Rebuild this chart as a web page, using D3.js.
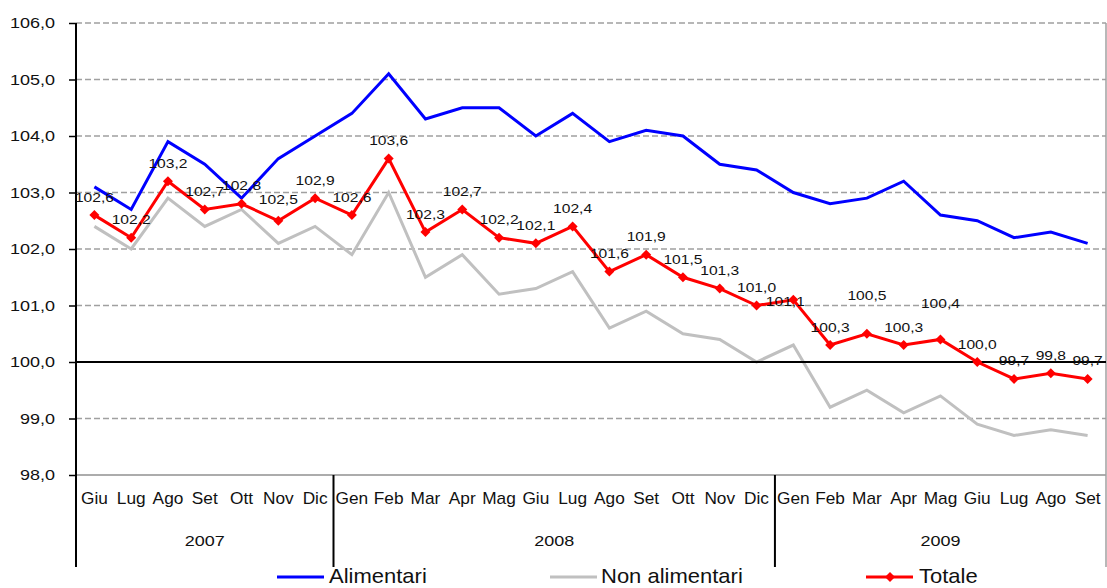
<!DOCTYPE html>
<html>
<head>
<meta charset="utf-8">
<script src="https://cdn.jsdelivr.net/npm/d3@7"></script>
<style>
  body { margin: 0; background: #fff; }
  text { font-family: "Liberation Sans", Arial, sans-serif; fill: #111; }
</style>
</head>
<body>
<script>
"use strict";
// categories
var months = ["Giu","Lug","Ago","Set","Ott","Nov","Dic",
  "Gen","Feb","Mar","Apr","Mag","Giu","Lug","Ago","Set","Ott","Nov","Dic",
  "Gen","Feb","Mar","Apr","Mag","Giu","Lug","Ago","Set"];
var yearLabels = ["2007", "2008", "2009"];
var monthsPerYear = [7, 12, 9];

// series
var alimentari = [103.1,102.7,103.9,103.5,102.9,103.6,104.0,
  104.4,105.1,104.3,104.5,104.5,104.0,104.4,103.9,104.1,104.0,103.5,103.4,
  103.0,102.8,102.9,103.2,102.6,102.5,102.2,102.3,102.1];
var nonAlimentari = [102.4,102.0,102.9,102.4,102.7,102.1,102.4,
  101.9,103.0,101.5,101.9,101.2,101.3,101.6,100.6,100.9,100.5,100.4,100.0,
  100.3,99.2,99.5,99.1,99.4,98.9,98.7,98.8,98.7];
var totale = [102.6,102.2,103.2,102.7,102.8,102.5,102.9,
  102.6,103.6,102.3,102.7,102.2,102.1,102.4,101.6,101.9,101.5,101.3,101.0,
  101.1,100.3,100.5,100.3,100.4,100.0,99.7,99.8,99.7];
var yTicks = [98,99,100,101,102,103,104,105,106];

var seriesNames = ["Alimentari", "Non alimentari", "Totale"];
var seriesColors = ["#0000ff", "#c0c0c0", "#ff0000"];

draw();

function draw() {
    var width = 1107, height = 588;
    var left = 76, right = 1106, top = 23, bottom = 475;
    var fmt = function(v) { return d3.format(".1f")(v).replace(".", ","); };

    var svg = d3.select("body").append("svg")
        .attr("width", width)
        .attr("height", height);

    var x = d3.scaleBand().domain(d3.range(months.length)).range([left, right]);
    var y = d3.scaleLinear().domain([98, 106]).range([bottom, top]);
    var cx = function(i) { return x(i) + x.bandwidth() / 2; };

    // gridlines
    svg.append("g").selectAll("line")
        .data(yTicks.filter(function(t) { return t !== 98 && t !== 100; }))
        .join("line")
        .attr("x1", left).attr("x2", right)
        .attr("y1", function(d) { return y(d); })
        .attr("y2", function(d) { return y(d); })
        .attr("stroke", "#a0a0a0")
        .attr("stroke-width", 1.5)
        .attr("stroke-dasharray", "6,3");
    svg.append("line")
        .attr("x1", left).attr("x2", right)
        .attr("y1", y(98)).attr("y2", y(98))
        .attr("stroke", "#909090").attr("stroke-width", 1.5);
    // right border
    svg.append("line")
        .attr("x1", right).attr("x2", right)
        .attr("y1", top).attr("y2", 567)
        .attr("stroke", "#a0a0a0").attr("stroke-width", 1.5);

    // y axis
    var yAxis = svg.append("g")
        .attr("transform", "translate(" + left + ",0)")
        .call(d3.axisLeft(y).tickValues(yTicks).tickFormat(fmt)
            .tickSizeInner(7).tickSizeOuter(0).tickPadding(10.5));
    yAxis.select(".domain").remove();
    yAxis.selectAll(".tick line").attr("stroke", "#000").attr("stroke-width", 1.5);
    yAxis.selectAll(".tick text")
        .attr("font-size", 15)
        .attr("font-family", "Liberation Sans, Arial, sans-serif")
        .attr("fill", "#111")
        .attr("transform", "scale(1.2,1)");
    svg.append("line")
        .attr("x1", left).attr("x2", left)
        .attr("y1", top).attr("y2", 567)
        .attr("stroke", "#000").attr("stroke-width", 2);

    // series lines
    var line = d3.line()
        .x(function(d, i) { return cx(i); })
        .y(function(d) { return y(d); });
    [alimentari, nonAlimentari].forEach(function(s, k) {
        svg.append("path")
            .datum(s)
            .attr("d", line)
            .attr("fill", "none")
            .attr("stroke", seriesColors[k])
            .attr("stroke-width", 3);
    });

    // 100 line
    svg.append("line")
        .attr("x1", left).attr("x2", right)
        .attr("y1", y(100)).attr("y2", y(100))
        .attr("stroke", "#000").attr("stroke-width", 2);

    svg.append("path")
        .datum(totale)
        .attr("d", line)
        .attr("fill", "none")
        .attr("stroke", seriesColors[2])
        .attr("stroke-width", 3);

    var diamond = d3.symbol(d3.symbolSquare).size(50);
    svg.append("g").selectAll("path")
        .data(totale)
        .join("path")
        .attr("d", diamond)
        .attr("fill", seriesColors[2])
        .attr("transform", function(d, i) {
            return "translate(" + cx(i) + "," + y(d) + ") rotate(45)";
        });

    // data labels (a few moved like in the original)
    var nudge = {5: {dy: -17}, 19: {dx: -8, dy: 6}, 21: {dy: -34}, 23: {dy: -31}};
    svg.append("g").selectAll("text")
        .data(totale)
        .join("text")
        .attr("text-anchor", "middle")
        .attr("font-size", 12.5)
        .attr("transform", function(d, i) {
            var n = nudge[i] || {};
            var dx = n.dx || 0, dy = n.dy !== undefined ? n.dy : -13.5;
            return "translate(" + (cx(i) + dx) + "," + (y(d) + dy) + ") scale(1.25,1)";
        })
        .text(fmt);

    // x axis: months
    svg.append("g").selectAll("text")
        .data(months)
        .join("text")
        .attr("text-anchor", "middle")
        .attr("font-size", 16)
        .attr("transform", function(d, i) { return "translate(" + cx(i) + ",504) scale(1.08,1)"; })
        .text(function(d) { return d; });

    // x axis: years + separators
    var start = 0;
    yearLabels.forEach(function(lab, k) {
        var x0 = x(start), x1 = x(start + monthsPerYear[k] - 1) + x.bandwidth();
        svg.append("text")
            .attr("text-anchor", "middle")
            .attr("font-size", 15)
            .attr("transform", "translate(" + ((x0 + x1) / 2) + ",546) scale(1.2,1)")
            .text(lab);
        if (k > 0) {
            svg.append("line")
                .attr("x1", x0).attr("x2", x0)
                .attr("y1", bottom).attr("y2", 567)
                .attr("stroke", "#000").attr("stroke-width", 2);
        }
        start += monthsPerYear[k];
    });

    // legend
    var legendX = [277, 550, 866];
    var legend = svg.append("g").selectAll("g")
        .data(seriesNames)
        .join("g")
        .attr("transform", function(d, i) { return "translate(" + legendX[i] + ",577)"; });
    legend.append("line")
        .attr("x1", 0).attr("x2", 47)
        .attr("stroke", function(d, i) { return seriesColors[i]; })
        .attr("stroke-width", 3);
    legend.filter(function(d, i) { return i === 2; })
        .append("path")
        .attr("d", diamond)
        .attr("fill", seriesColors[2])
        .attr("transform", "translate(24,0) rotate(45)");
    legend.append("text")
        .attr("font-size", 20)
        .attr("transform", function(d, i) {
            return "translate(" + (i === 0 ? 52 : (i === 1 ? 51 : 53)) + ",6) scale(1.1,1)";
        })
        .text(function(d) { return d; });
}
</script>
</body>
</html>
